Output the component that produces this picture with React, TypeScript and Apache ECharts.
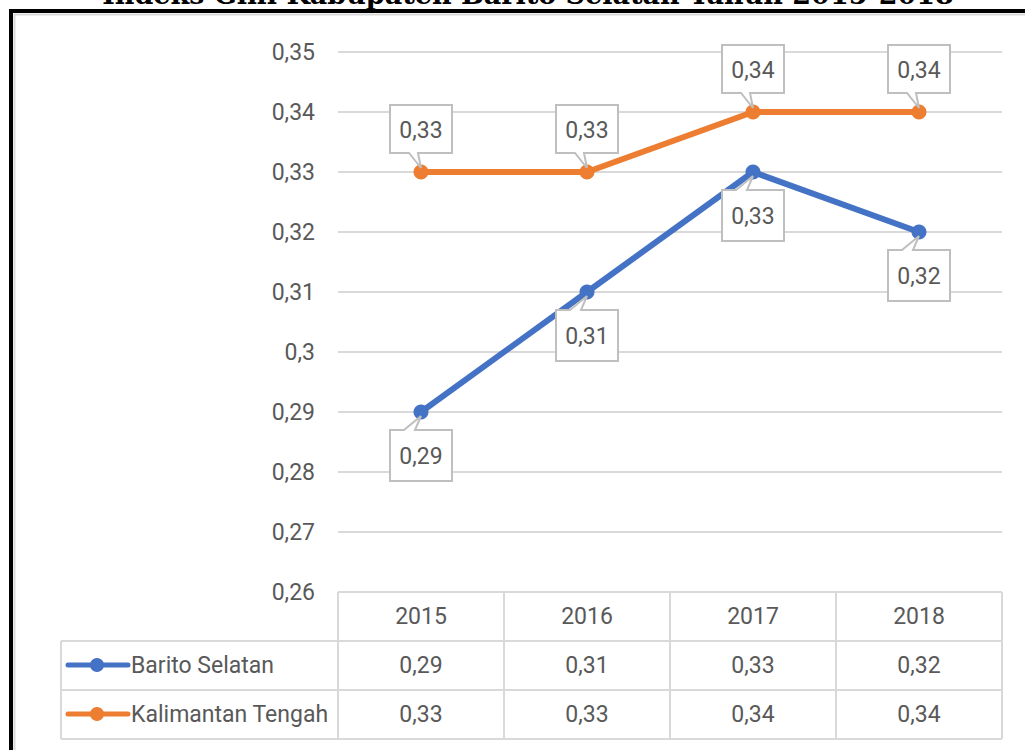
import React, { useEffect, useRef } from 'react';
import * as echarts from 'echarts';

const title = 'Indeks Gini Kabupaten Barito Selatan Tahun 2015-2018';
const years = ['2015', '2016', '2017', '2018'];
const seriesNames = ['Barito Selatan', 'Kalimantan Tengah'];
const baritoSelatan = [0.29, 0.31, 0.33, 0.32];
const kalimantanTengah = [0.33, 0.33, 0.34, 0.34];
const yMin = 0.26;
const yMax = 0.35;
const yStep = 0.01;

const BLUE = '#4472C4';
const ORANGE = '#ED7D31';
const TEXT = '#595959';
const GRID = '#d9d9d9';
const FONT = 'Roboto, sans-serif';
const FS = 23;

const fmt = (v: number) => String(Number(Number(v).toFixed(2))).replace('.', ',');

function calloutSeries(values: number[], above: boolean, name: string) {
  return {
    type: 'custom',
    name: name + ' label',
    z: 10,
    silent: true,
    data: values.map((v, i) => [i, v]),
    encode: { x: 0, y: 1 },
    renderItem: (_params: any, api: any) => {
      const p = api.coord([api.value(0), api.value(1)]);
      const cx = p[0];
      const py = p[1];
      const hw = 31;
      let pts: number[][];
      let top: number;
      let bot: number;
      if (above) {
        top = py - 67;
        bot = py - 19;
        pts = [
          [cx - hw, top], [cx + hw, top], [cx + hw, bot], [cx - 3, bot],
          [cx, py - 4], [cx - 12, bot], [cx - hw, bot],
        ];
      } else {
        top = py + 18;
        bot = py + 69;
        pts = [
          [cx - hw, top], [cx - 17, top], [cx, py + 4], [cx - 6, top],
          [cx + hw, top], [cx + hw, bot], [cx - hw, bot],
        ];
      }
      return {
        type: 'group',
        children: [
          {
            type: 'polygon',
            shape: { points: pts },
            style: { fill: '#ffffff', stroke: '#bfbfbf', lineWidth: 2 },
          },
          {
            type: 'text',
            x: cx,
            y: (top + bot) / 2 + 1,
            style: {
              text: fmt(api.value(1)),
              fill: TEXT,
              fontSize: FS,
              fontFamily: FONT,
              align: 'center',
              verticalAlign: 'middle',
            },
          },
        ],
      };
    },
  };
}

function tableAxis(offset: number, formatter: (v: string, i: number) => string) {
  return {
    type: 'category',
    data: years,
    gridIndex: 0,
    position: 'bottom',
    offset,
    boundaryGap: true,
    axisLine: { show: false },
    axisTick: { show: false },
    splitLine: { show: false },
    axisLabel: {
      formatter,
      margin: 24,
      verticalAlign: 'middle',
      color: TEXT,
      fontSize: FS,
      fontFamily: FONT,
      interval: 0,
    },
  };
}

export default function App() {
  const ref = useRef<HTMLDivElement>(null);

  useEffect(() => {
    if (!ref.current) return;
    const chart = echarts.init(ref.current, undefined, { renderer: 'svg' });

    const hLines = [
      { y: 592, x1: 338 },
      { y: 641, x1: 61 },
      { y: 690, x1: 61 },
      { y: 739, x1: 61 },
    ];
    const vLines = [
      { x: 61, y1: 641 },
      { x: 338, y1: 592 },
      { x: 504, y1: 592 },
      { x: 670, y1: 592 },
      { x: 836, y1: 592 },
      { x: 1002, y1: 592 },
    ];
    const tableGraphics: any[] = [
      ...hLines.map((l) => ({
        type: 'line',
        shape: { x1: l.x1, y1: l.y, x2: 1002, y2: l.y },
        style: { stroke: GRID, lineWidth: 2 },
        z: 1,
      })),
      ...vLines.map((l) => ({
        type: 'line',
        shape: { x1: l.x, y1: l.y1, x2: l.x, y2: 739 },
        style: { stroke: GRID, lineWidth: 2 },
        z: 1,
      })),
    ];
    const legendRows = [
      { name: seriesNames[0], color: BLUE, y: 665 },
      { name: seriesNames[1], color: ORANGE, y: 714 },
    ];
    const legendGraphics: any[] = [];
    legendRows.forEach((r) => {
      legendGraphics.push({
        type: 'line',
        shape: { x1: 68, y1: r.y, x2: 128, y2: r.y },
        style: { stroke: r.color, lineWidth: 5, lineCap: 'round' },
        z: 2,
      });
      legendGraphics.push({
        type: 'circle',
        shape: { cx: 97, cy: r.y, r: 7 },
        style: { fill: r.color },
        z: 2,
      });
      legendGraphics.push({
        type: 'text',
        x: 131,
        y: r.y,
        style: {
          text: r.name,
          fill: TEXT,
          fontSize: FS,
          fontFamily: FONT,
          align: 'left',
          verticalAlign: 'middle',
        },
        z: 2,
      });
    });

    chart.setOption({
      animation: false,
      backgroundColor: '#ffffff',
      grid: { left: 338, right: 23, top: 52, bottom: 158, containLabel: false },
      graphic: [
        {
          type: 'text',
          x: 528,
          y: 8,
          style: {
            text: title,
            fill: '#000000',
            fontSize: 27,
            fontWeight: 'bold',
            fontFamily: "'DejaVu Serif', serif",
            align: 'center',
            verticalAlign: 'bottom',
          },
          z: 5,
        },
        {
          type: 'rect',
          shape: { x: 11, y: 11, width: 1100, height: 800 },
          style: { fill: 'none', stroke: '#000000', lineWidth: 4 },
          z: 5,
        },
        {
          type: 'rect',
          shape: { x: 14.5, y: 14.5, width: 1100, height: 800 },
          style: { fill: 'none', stroke: '#d9d9d9', lineWidth: 2 },
          z: 5,
        },
        ...tableGraphics,
        ...legendGraphics,
      ],
      xAxis: [
        tableAxis(0, (v: string) => v),
        tableAxis(49, (_v: string, i: number) => fmt(baritoSelatan[i])),
        tableAxis(98, (_v: string, i: number) => fmt(kalimantanTengah[i])),
      ],
      yAxis: {
        type: 'value',
        min: yMin,
        max: yMax,
        interval: yStep,
        axisLine: { show: false },
        axisTick: { show: false },
        axisLabel: {
          formatter: (v: number) => fmt(v),
          margin: 23,
          color: TEXT,
          fontSize: FS,
          fontFamily: FONT,
        },
        splitLine: { lineStyle: { color: GRID, width: 2 } },
      },
      series: [
        {
          type: 'line',
          name: seriesNames[0],
          data: baritoSelatan,
          xAxisIndex: 0,
          color: BLUE,
          lineStyle: { width: 6, color: BLUE },
          itemStyle: { color: BLUE },
          symbol: 'circle',
          symbolSize: 15,
          z: 3,
        },
        {
          type: 'line',
          name: seriesNames[1],
          data: kalimantanTengah,
          xAxisIndex: 0,
          color: ORANGE,
          lineStyle: { width: 6, color: ORANGE },
          itemStyle: { color: ORANGE },
          symbol: 'circle',
          symbolSize: 15,
          z: 3,
        },
        calloutSeries(baritoSelatan, false, seriesNames[0]),
        calloutSeries(kalimantanTengah, true, seriesNames[1]),
      ],
    });

    return () => chart.dispose();
  }, []);

  return (
    <div
      ref={ref}
      style={{ position: 'fixed', left: 0, top: 0, width: 1025, height: 750, background: '#fff' }}
    />
  );
}
